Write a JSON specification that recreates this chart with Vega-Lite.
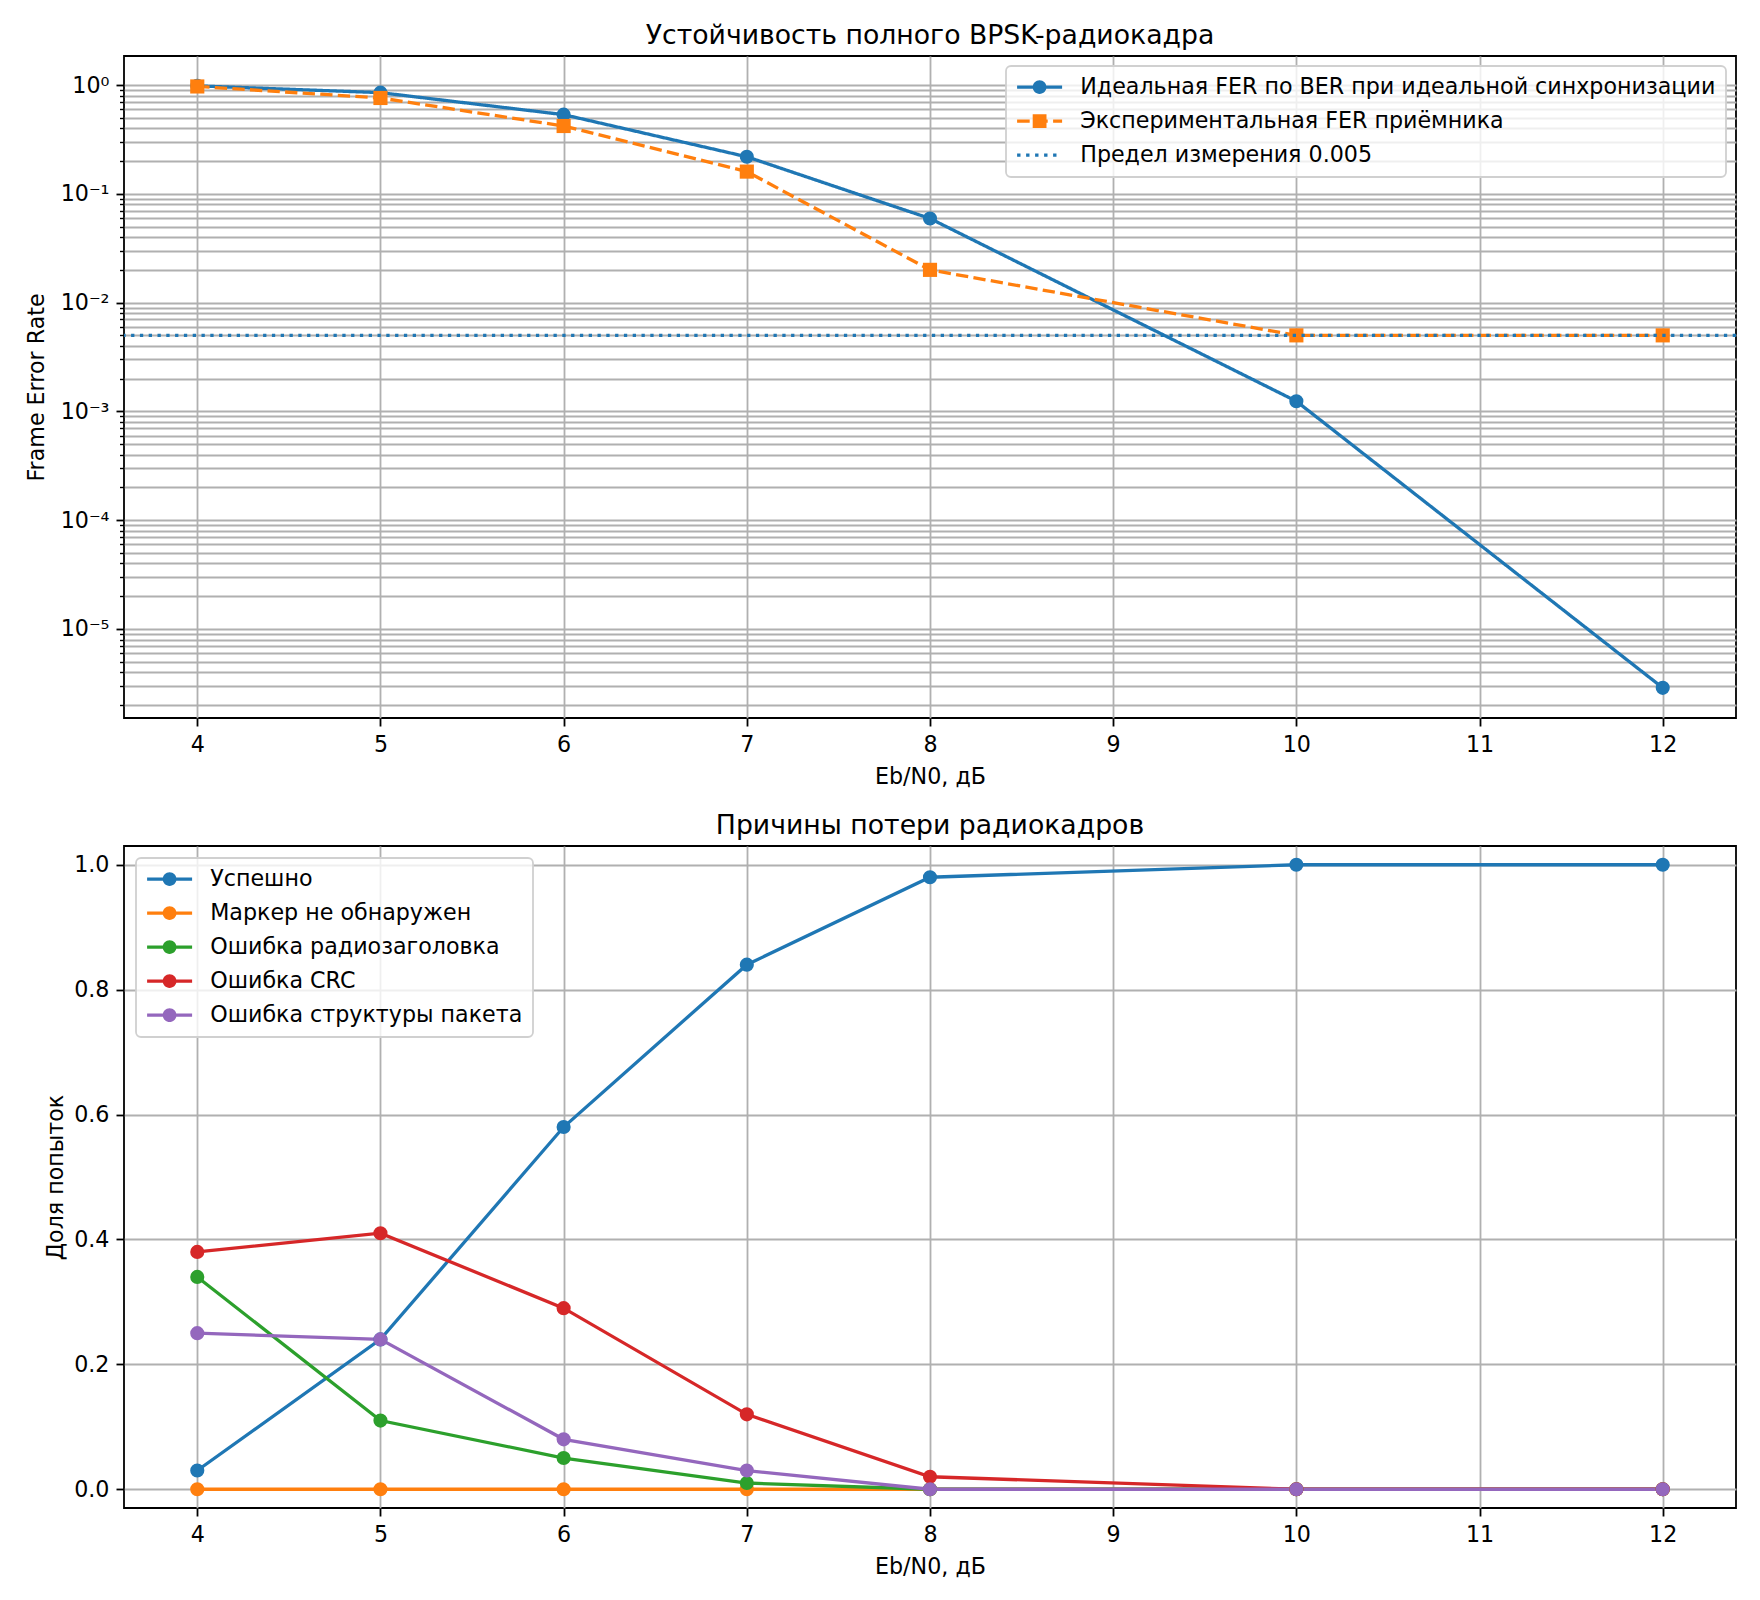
{
  "$schema": "https://vega.github.io/schema/vega-lite/v6.json",
  "background": "white",
  "padding": {"left": 24, "top": 22, "right": 4, "bottom": 4},
  "autosize": {"type": "pad"},
  "spacing": 23,
  "resolve": {
    "scale": {"color": "independent", "fill": "independent", "strokeDash": "independent"},
    "legend": {"color": "independent", "fill": "independent", "strokeDash": "independent"}
  },
  "config": {
    "font": "DejaVu Sans",
    "view": {"stroke": "black", "strokeWidth": 1.8},
    "axis": {
      "domain": false,
      "labelFont": "DejaVu Sans",
      "labelFontSize": 22.2,
      "labelColor": "black",
      "titleFont": "DejaVu Sans",
      "titleFontSize": 22.2,
      "titleFontWeight": "normal",
      "titleColor": "black",
      "tickColor": "black",
      "tickSize": 8,
      "tickWidth": 1.8,
      "labelPadding": 7,
      "gridColor": "#b0b0b0",
      "gridWidth": 1.8,
      "gridOpacity": 1
    },
    "legend": {
      "labelFont": "DejaVu Sans",
      "labelFontSize": 22.2,
      "labelColor": "black",
      "labelLimit": 0,
      "fillColor": "rgba(255,255,255,0.8)",
      "strokeColor": "#d0d0d0",
      "strokeWidth": 1.8,
      "cornerRadius": 5,
      "padding": 10,
      "labelOffset": 42,
      "symbolSize": 400,
      "symbolStrokeWidth": 0,
      "symbolOpacity": 1,
      "rowPadding": 11
    },
    "title": {
      "font": "DejaVu Sans",
      "fontSize": 26.7,
      "fontWeight": "normal",
      "color": "black",
      "baseline": "alphabetic",
      "offset": 6,
      "anchor": "middle",
      "frame": "group"
    }
  },
  "vconcat": [
    {
      "width": 1612,
      "height": 662,
      "title": "Устойчивость полного BPSK-радиокадра",
      "layer": [
        {
          "data": {
            "values": [
              {"series": "Идеальная FER по BER при идеальной синхронизации", "x": 4, "y": 0.982},
              {"series": "Идеальная FER по BER при идеальной синхронизации", "x": 5, "y": 0.851},
              {"series": "Идеальная FER по BER при идеальной синхронизации", "x": 6, "y": 0.534},
              {"series": "Идеальная FER по BER при идеальной синхронизации", "x": 7, "y": 0.219},
              {"series": "Идеальная FER по BER при идеальной синхронизации", "x": 8, "y": 0.0593},
              {"series": "Идеальная FER по BER при идеальной синхронизации", "x": 10, "y": 0.00124},
              {"series": "Идеальная FER по BER при идеальной синхронизации", "x": 12, "y": 0.00000288},
              {"series": "Экспериментальная FER приёмника", "x": 4, "y": 0.97},
              {"series": "Экспериментальная FER приёмника", "x": 5, "y": 0.76},
              {"series": "Экспериментальная FER приёмника", "x": 6, "y": 0.42},
              {"series": "Экспериментальная FER приёмника", "x": 7, "y": 0.16},
              {"series": "Экспериментальная FER приёмника", "x": 8, "y": 0.02},
              {"series": "Экспериментальная FER приёмника", "x": 10, "y": 0.005},
              {"series": "Экспериментальная FER приёмника", "x": 12, "y": 0.005}
            ]
          },
          "encoding": {
            "x": {
              "field": "x",
              "type": "quantitative",
              "scale": {"domain": [3.6, 12.4], "nice": false, "zero": false},
              "axis": {"values": [4, 5, 6, 7, 8, 9, 10, 11, 12], "format": "d", "title": "Eb/N0, дБ", "titlePadding": 10}
            },
            "y": {
              "field": "y",
              "type": "quantitative",
              "scale": {"type": "log", "domain": [1.52e-6, 1.848], "nice": false},
              "axis": {
                "title": "Frame Error Rate",
                "titleX": -81,
                "titleY": 331,
                "titleBaseline": "alphabetic",
                "values": [2e-6, 3e-6, 4e-6, 5e-6, 6e-6, 7e-6, 8e-6, 9e-6,
                           1e-5, 2e-5, 3e-5, 4e-5, 5e-5, 6e-5, 7e-5, 8e-5, 9e-5,
                           1e-4, 2e-4, 3e-4, 4e-4, 5e-4, 6e-4, 7e-4, 8e-4, 9e-4,
                           1e-3, 2e-3, 3e-3, 4e-3, 5e-3, 6e-3, 7e-3, 8e-3, 9e-3,
                           1e-2, 2e-2, 3e-2, 4e-2, 5e-2, 6e-2, 7e-2, 8e-2, 9e-2,
                           1e-1, 2e-1, 3e-1, 4e-1, 5e-1, 6e-1, 7e-1, 8e-1, 9e-1, 1],
                "labelExpr": "abs(log(datum.value)/LN10 - round(log(datum.value)/LN10)) > 0.001 ? '' : round(log(datum.value)/LN10) == 0 ? '10⁰' : round(log(datum.value)/LN10) == -1 ? '10⁻¹' : round(log(datum.value)/LN10) == -2 ? '10⁻²' : round(log(datum.value)/LN10) == -3 ? '10⁻³' : round(log(datum.value)/LN10) == -4 ? '10⁻⁴' : round(log(datum.value)/LN10) == -5 ? '10⁻⁵' : ''",
                "tickSize": {"condition": {"test": "abs(log(datum.value)/LN10 - round(log(datum.value)/LN10)) < 0.001", "value": 8}, "value": 4.5},
                "tickWidth": {"condition": {"test": "abs(log(datum.value)/LN10 - round(log(datum.value)/LN10)) < 0.001", "value": 1.8}, "value": 1.4},
                "labelOverlap": false
              }
            }
          },
          "layer": [
            {
              "mark": {"type": "line", "strokeWidth": 3.3, "strokeCap": "butt"},
              "encoding": {
                "color": {
                  "field": "series", "type": "nominal", "legend": null,
                  "scale": {"domain": ["Идеальная FER по BER при идеальной синхронизации", "Экспериментальная FER приёмника"], "range": ["#1f77b4", "#ff7f0e"]}
                },
                "strokeDash": {
                  "field": "series", "type": "nominal", "legend": null,
                  "scale": {"domain": ["Идеальная FER по BER при идеальной синхронизации", "Экспериментальная FER приёмника"], "range": [[1, 0], [12.3, 5.3]]}
                }
              }
            },
            {
              "transform": [{"filter": "datum.series == 'Идеальная FER по BER при идеальной синхронизации'"}],
              "mark": {"type": "point", "shape": "circle", "filled": true, "opacity": 1, "size": 200, "strokeWidth": 0},
              "encoding": {
                "fill": {
                  "field": "series", "type": "nominal",
                  "scale": {"domain": ["Идеальная FER по BER при идеальной синхронизации", "Экспериментальная FER приёмника", "Предел измерения 0.005"], "range": ["#1f77b4", "#ff7f0e", "#1f77b4"]},
                  "legend": {
                    "title": null,
                    "orient": "top-right",
                    "offset": 10,
                    "encode": {
                      "symbols": {
                        "update": {
                          "shape": {"signal": "datum.index === 0 ? 'M-1,-0.17H3.5V0.17H-1Z M1.94,0A0.69,0.69,0,1,1,0.56,0A0.69,0.69,0,1,1,1.94,0Z' : datum.index === 1 ? 'M-1,-0.17H0.26V0.17H-1Z M0.8,-0.17H2.06V0.17H0.8Z M2.6,-0.17H3.5V0.17H2.6Z M0.56,-0.69H1.94V0.69H0.56Z' : 'M-1,-0.17H-0.66V0.17H-1Z M-0.1,-0.17H0.24V0.17H-0.1Z M0.8,-0.17H1.14V0.17H0.8Z M1.7,-0.17H2.04V0.17H1.7Z M2.6,-0.17H2.94V0.17H2.6Z'"}
                        }
                      }
                    }
                  }
                }
              }
            },
            {
              "transform": [{"filter": "datum.series == 'Экспериментальная FER приёмника'"}],
              "mark": {"type": "point", "shape": "square", "filled": true, "opacity": 1, "size": 200, "strokeWidth": 0},
              "encoding": {
                "fill": {"field": "series", "type": "nominal"}
              }
            }
          ]
        },
        {
          "data": {"values": [{"limit": 0.005}]},
          "mark": {"type": "rule", "color": "#1f77b4", "strokeWidth": 3.3, "strokeDash": [3.3, 5.5], "strokeCap": "butt"},
          "encoding": {
            "y": {"field": "limit", "type": "quantitative"}
          }
        }
      ]
    },
    {
      "width": 1612,
      "height": 662,
      "title": "Причины потери радиокадров",
      "data": {
        "values": [
          {"series": "Успешно", "x": 4, "y": 0.03},
          {"series": "Успешно", "x": 5, "y": 0.24},
          {"series": "Успешно", "x": 6, "y": 0.58},
          {"series": "Успешно", "x": 7, "y": 0.84},
          {"series": "Успешно", "x": 8, "y": 0.98},
          {"series": "Успешно", "x": 10, "y": 1.0},
          {"series": "Успешно", "x": 12, "y": 1.0},
          {"series": "Маркер не обнаружен", "x": 4, "y": 0},
          {"series": "Маркер не обнаружен", "x": 5, "y": 0},
          {"series": "Маркер не обнаружен", "x": 6, "y": 0},
          {"series": "Маркер не обнаружен", "x": 7, "y": 0},
          {"series": "Маркер не обнаружен", "x": 8, "y": 0},
          {"series": "Маркер не обнаружен", "x": 10, "y": 0},
          {"series": "Маркер не обнаружен", "x": 12, "y": 0},
          {"series": "Ошибка радиозаголовка", "x": 4, "y": 0.34},
          {"series": "Ошибка радиозаголовка", "x": 5, "y": 0.11},
          {"series": "Ошибка радиозаголовка", "x": 6, "y": 0.05},
          {"series": "Ошибка радиозаголовка", "x": 7, "y": 0.01},
          {"series": "Ошибка радиозаголовка", "x": 8, "y": 0},
          {"series": "Ошибка радиозаголовка", "x": 10, "y": 0},
          {"series": "Ошибка радиозаголовка", "x": 12, "y": 0},
          {"series": "Ошибка CRC", "x": 4, "y": 0.38},
          {"series": "Ошибка CRC", "x": 5, "y": 0.41},
          {"series": "Ошибка CRC", "x": 6, "y": 0.29},
          {"series": "Ошибка CRC", "x": 7, "y": 0.12},
          {"series": "Ошибка CRC", "x": 8, "y": 0.02},
          {"series": "Ошибка CRC", "x": 10, "y": 0},
          {"series": "Ошибка CRC", "x": 12, "y": 0},
          {"series": "Ошибка структуры пакета", "x": 4, "y": 0.25},
          {"series": "Ошибка структуры пакета", "x": 5, "y": 0.24},
          {"series": "Ошибка структуры пакета", "x": 6, "y": 0.08},
          {"series": "Ошибка структуры пакета", "x": 7, "y": 0.03},
          {"series": "Ошибка структуры пакета", "x": 8, "y": 0},
          {"series": "Ошибка структуры пакета", "x": 10, "y": 0},
          {"series": "Ошибка структуры пакета", "x": 12, "y": 0}
        ]
      },
      "encoding": {
        "x": {
          "field": "x",
          "type": "quantitative",
          "scale": {"domain": [3.6, 12.4], "nice": false, "zero": false},
          "axis": {"values": [4, 5, 6, 7, 8, 9, 10, 11, 12], "format": "d", "title": "Eb/N0, дБ", "titlePadding": 10}
        },
        "y": {
          "field": "y",
          "type": "quantitative",
          "scale": {"domain": [-0.03, 1.03], "nice": false, "zero": false},
          "axis": {
            "values": [0, 0.2, 0.4, 0.6, 0.8, 1.0],
            "format": ".1f",
            "title": "Доля попыток",
            "titleX": -62,
            "titleY": 331,
            "titleBaseline": "alphabetic"
          }
        }
      },
      "layer": [
        {
          "mark": {"type": "line", "strokeWidth": 3.3},
          "encoding": {
            "color": {
              "field": "series", "type": "nominal",
              "scale": {"domain": ["Успешно", "Маркер не обнаружен", "Ошибка радиозаголовка", "Ошибка CRC", "Ошибка структуры пакета"], "range": ["#1f77b4", "#ff7f0e", "#2ca02c", "#d62728", "#9467bd"]},
              "legend": {
                "title": null,
                "orient": "top-left",
                "offset": 12,
                "symbolType": "M-1,-0.17H3.5V0.17H-1Z M1.94,0A0.69,0.69,0,1,1,0.56,0A0.69,0.69,0,1,1,1.94,0Z"
              }
            }
          }
        },
        {
          "mark": {"type": "point", "shape": "circle", "filled": true, "opacity": 1, "size": 200, "strokeWidth": 0},
          "encoding": {
            "fill": {
              "field": "series", "type": "nominal",
              "scale": {"domain": ["Успешно", "Маркер не обнаружен", "Ошибка радиозаголовка", "Ошибка CRC", "Ошибка структуры пакета"], "range": ["#1f77b4", "#ff7f0e", "#2ca02c", "#d62728", "#9467bd"]},
              "legend": {
                "title": null,
                "orient": "top-left",
                "offset": 12,
                "symbolType": "M-1,-0.17H3.5V0.17H-1Z M1.94,0A0.69,0.69,0,1,1,0.56,0A0.69,0.69,0,1,1,1.94,0Z"
              }
            }
          }
        }
      ]
    }
  ]
}
